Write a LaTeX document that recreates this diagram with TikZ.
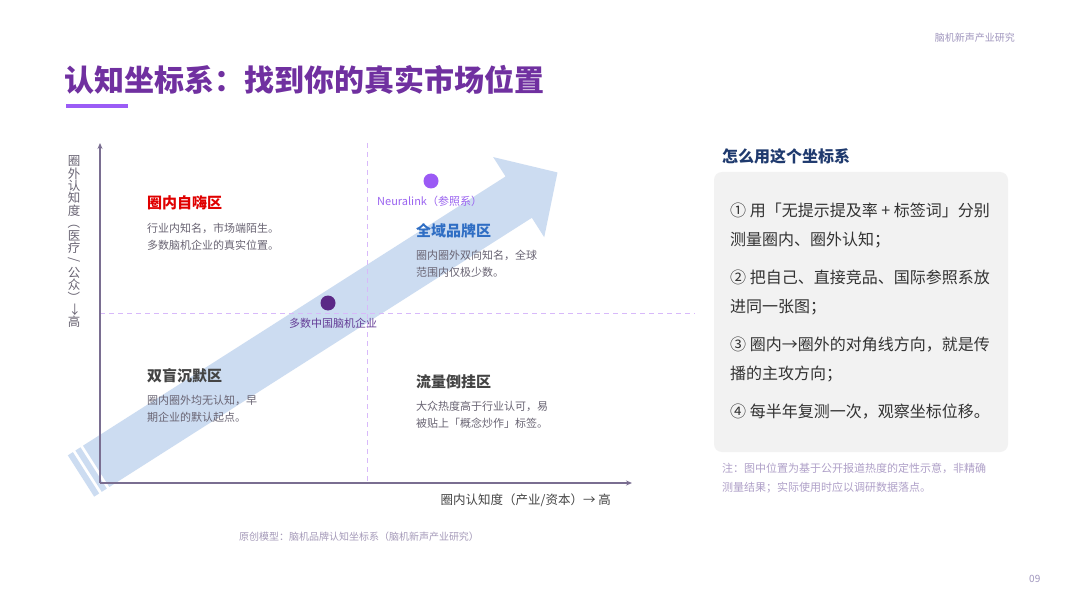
\documentclass[tikz,border=0pt]{standalone}
\usepackage{fontspec}
\setmainfont{Noto Sans CJK SC}
\usepackage{graphicx}
\usepackage{xcolor}
\usetikzlibrary{arrows.meta}

\definecolor{titlepurple}{RGB}{112,48,160}
\definecolor{barpurple}{RGB}{155,92,246}
\definecolor{headgray}{RGB}{160,150,190}
\definecolor{axiscol}{RGB}{122,110,145}
\definecolor{gridpurple}{RGB}{216,185,250}
\definecolor{arrowblue}{RGB}{204,220,241}
\definecolor{hotred}{RGB}{224,0,0}
\definecolor{brandblue}{RGB}{47,110,196}
\definecolor{darktext}{RGB}{68,68,68}
\definecolor{descgray}{RGB}{105,100,115}
\definecolor{dotdark}{RGB}{91,40,134}
\definecolor{dotlight}{RGB}{155,90,245}
\definecolor{labdark}{RGB}{100,60,150}
\definecolor{lablight}{RGB}{155,100,240}
\definecolor{navy}{RGB}{31,58,110}
\definecolor{boxgray}{RGB}{242,242,242}
\definecolor{itemtext}{RGB}{51,51,51}
\definecolor{notecol}{RGB}{175,160,200}

\newcommand{\vrot}[1]{\rotatebox[origin=c]{-90}{#1}}

\tikzset{
  quadtitle/.style={anchor=west, inner sep=0pt, font=\fontsize{15}{15}\selectfont\bfseries},
  quaddesc/.style={anchor=west, inner sep=0pt, align=left, text=descgray, font=\fontsize{11}{17}\selectfont},
  ylab/.style={inner sep=0pt, text=descgray, font=\fontsize{12.5}{12.5}\selectfont},
  grid line/.style={gridpurple, line width=1pt, dash pattern=on 5pt off 4pt},
  axis line/.style={axiscol, line width=1.8pt, -{Stealth[length=6pt,width=5pt]}},
  step item/.style={anchor=base west, inner sep=0pt, align=left, text=itemtext, font=\fontsize{16}{29}\selectfont},
}

\begin{document}
\begin{tikzpicture}[x=1pt, y=-1pt]
	\useasboundingbox[fill=white] (0,0) rectangle (1080,599);

	\coordinate (O) at (100,483);    % origin
	\coordinate (Ytop) at (100,143);
	\coordinate (Xend) at (632,483);
	\coordinate (Tail) at (81,476);  % arrow tail centre

	% header and title
	\node[anchor=east, inner sep=0pt, text=headgray, font=\fontsize{10}{10}\selectfont] (brand) at (1015,38) {脑机新声产业研究};
	\node[anchor=west, inner sep=0pt, text=titlepurple, font=\fontsize{30}{30}\selectfont\bfseries] (title) at (64,80) {认知坐标系：找到你的真实市场位置};
	\fill[barpurple] (66,104) rectangle (128,108.5);

	% big diagonal arrow
	\begin{scope}[shift={(Tail)}, rotate=32.5]
		\fill[arrowblue] (18,-24.5) -- (519,-24.5) -- (519,-47.5) -- (565,0)
			-- (519,47.5) -- (519,24.5) -- (18,24.5) -- cycle;
		\foreach \s in {0,9}
			\fill[arrowblue] (\s,-24.5) rectangle (\s+6,24.5);
	\end{scope}

	% quadrant split
	\draw[grid line] (367,143) -- (367,483);
	\draw[grid line] (100,313) -- (695,313);

	% axes
	\draw[axis line] (O) -- (Ytop);
	\draw[axis line] (O) -- (Xend);

	\foreach \c [count=\k] in {圈,外,认,知,度,\vrot{（},医,疗,\vrot{/},公,众,\vrot{）},\vrot{→},高}
		\node[ylab] (ych\k) at (74,148.6+12.4*\k) {\c};
	\node[anchor=east, inner sep=0pt, text=darktext, font=\fontsize{12.5}{12.5}\selectfont] (xlab) at (611,500) {圈内认知度（产业/资本）→ 高};

	% quadrants
	\node[quadtitle, text=hotred] (q1) at (147,203) {圈内自嗨区};
	\node[quaddesc] (q1d) at (147,236.5) {行业内知名，市场端陌生。\\多数脑机企业的真实位置。};
	\node[quadtitle, text=brandblue] (q2) at (416,231) {全域品牌区};
	\node[quaddesc] (q2d) at (416,263.5) {圈内圈外双向知名，全球\\范围内仅极少数。};
	\node[quadtitle, text=darktext] (q3) at (147,376) {双盲沉默区};
	\node[quaddesc] (q3d) at (147,408.5) {圈内圈外均无认知，早\\期企业的默认起点。};
	\node[quadtitle, text=darktext] (q4) at (416,382) {流量倒挂区};
	\node[quaddesc] (q4d) at (416,414.5) {大众热度高于行业认可，易\\被贴上「概念炒作」标签。};

	% positions
	\fill[dotdark] (328,303) circle (7.5);
	\node[inner sep=0pt, text=labdark, font=\fontsize{11}{11}\selectfont] (cn) at (333,323) {多数中国脑机企业};
	\fill[dotlight] (431,181) circle (7.5);
	\node[anchor=west, inner sep=0pt, text=lablight, font=\fontsize{11}{11}\selectfont] (nl) at (377,201) {Neuralink（参照系）};

	\node[inner sep=0pt, text=notecol!80!gray, font=\fontsize{10}{10}\selectfont] (src) at (359,537) {原创模型：脑机品牌认知坐标系（脑机新声产业研究）};

	% how-to panel
	\node[anchor=west, inner sep=0pt, text=navy, font=\fontsize{16}{16}\selectfont\bfseries] (howto) at (722,156) {怎么用这个坐标系};
	\fill[boxgray, rounded corners=8pt] (714,172) rectangle (1008,452);
	% base = last line of each item
	\foreach \y/\txt [count=\i] in {
		246/{① 用「无提示提及率 + 标签词」分别\\测量圈内、圈外认知；},
		312/{② 把自己、直接竞品、国际参照系放\\进同一张图；},
		379/{③ 圈内→圈外的对角线方向，就是传\\播的主攻方向；},
		417/{④ 每半年复测一次，观察坐标位移。}}
		\node[step item] (item\i) at (730,\y) {\txt};

	\node[anchor=west, inner sep=0pt, align=left, text=notecol, font=\fontsize{11}{19}\selectfont] (note) at (722,478.5) {注：图中位置为基于公开报道热度的定性示意，非精确\\测量结果；实际使用时应以调研数据落点。};

	\node[anchor=west, inner sep=0pt, text=headgray, font=\fontsize{10}{10}\selectfont] (page) at (1029,579) {09};
\end{tikzpicture}
\end{document}
